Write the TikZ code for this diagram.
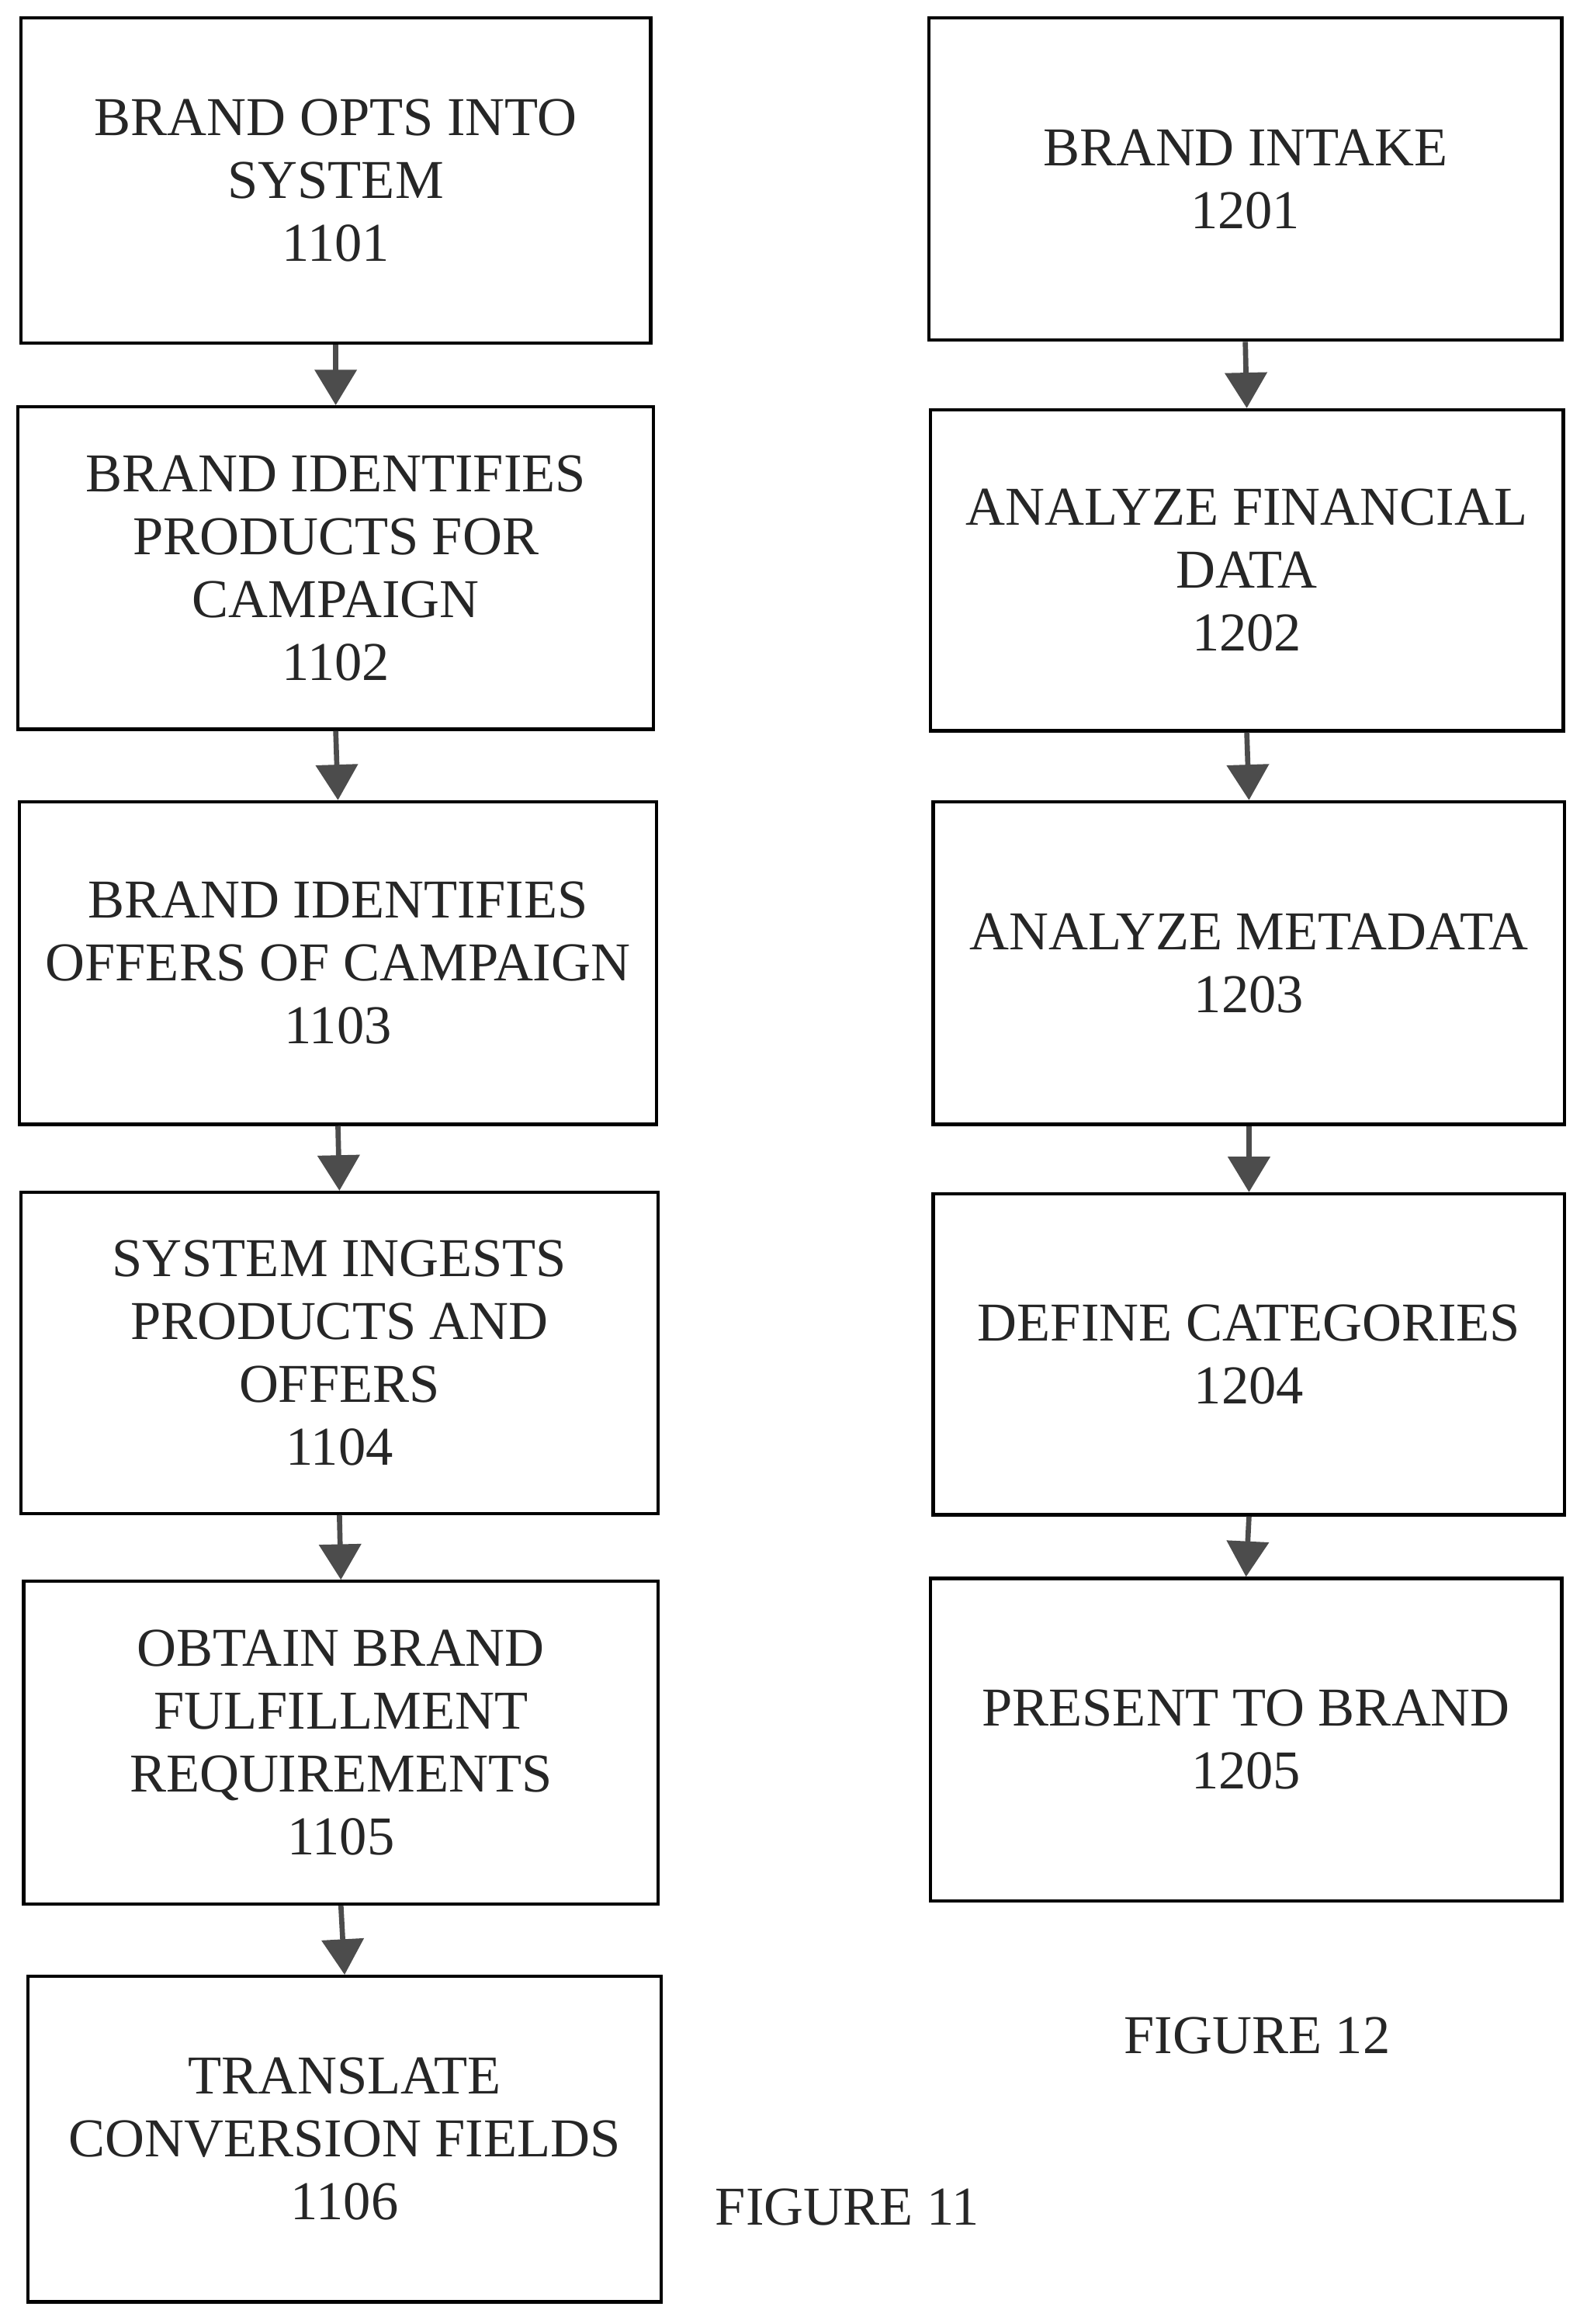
\documentclass[tikz,border=0pt]{standalone}
\usepackage{fontspec}
\setmainfont{Liberation Serif}
\usetikzlibrary{arrows.meta}
\begin{document}
\begin{tikzpicture}[x=1pt,y=-1pt,
 box/.style={draw=black,line width=2.2pt,align=center,inner sep=0pt,font=\fontsize{37}{42.5}\selectfont,text=black!85},
 arr/.style={draw=black!70,line width=3.5pt,-{Triangle[length=24pt,width=28pt]},fill=black!70,shorten >=0pt},
 lab/.style={font=\fontsize{37}{42}\selectfont,text=black!85}]
\fill[white] (0,0) rectangle (1073,1571);
\useasboundingbox (0,0) rectangle (1073,1571);
\newcommand{\bx}[6]{\node[box,minimum width=#4-#2,minimum height=#5-#3] (#1) at ({(#2+#4)/2},{(#3+#5)/2}) {#6};}
\bx{a1}{14}{12}{440}{232}{BRAND OPTS INTO\\SYSTEM\\1101}
\bx{a2}{12}{275}{442}{493}{BRAND IDENTIFIES\\PRODUCTS FOR\\CAMPAIGN\\1102}
\bx{a3}{13}{542}{444}{760}{BRAND IDENTIFIES\\OFFERS OF CAMPAIGN\\1103}
\bx{a4}{14}{806}{445}{1023}{SYSTEM INGESTS\\PRODUCTS AND\\OFFERS\\1104}
\bx{a5}{16}{1069}{445}{1287}{OBTAIN BRAND\\FULFILLMENT\\REQUIREMENTS\\1105}
\bx{a6}{19}{1336}{447}{1556}{TRANSLATE\\CONVERSION FIELDS\\1106}
\bx{b1}{628}{12}{1056}{230}{BRAND INTAKE\\1201}
\bx{b2}{629}{277}{1057}{494}{ANALYZE FINANCIAL\\DATA\\1202}
\bx{b3}{631}{542}{1058}{760}{ANALYZE METADATA\\1203}
\bx{b4}{631}{807}{1058}{1024}{DEFINE CATEGORIES\\1204}
\bx{b5}{629}{1067}{1056}{1285}{PRESENT TO BRAND\\1205}
\foreach \p/\q in {a1/a2,a2/a3,a3/a4,a4/a5,a5/a6,b1/b2,b2/b3,b3/b4,b4/b5}
 \draw[arr] (\p.south) -- (\q.north);
\node[lab] (f12) at (850,1376) {FIGURE 12};
\node[lab] (f11) at (573,1492) {FIGURE 11};
\end{tikzpicture}
\end{document}
